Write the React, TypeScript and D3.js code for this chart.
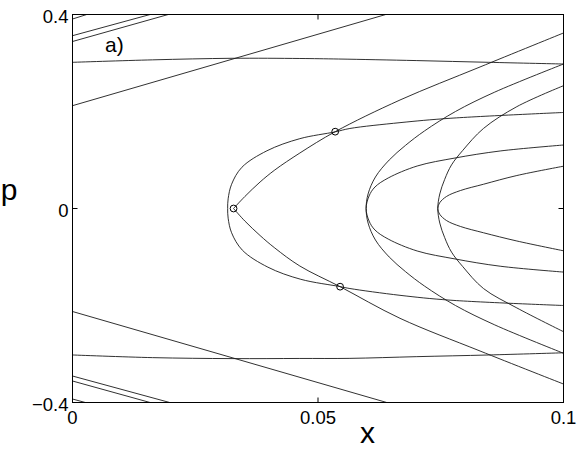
import React from "react";
import * as d3 from "d3";

const W = 581;
const H = 453;

const xTicks = [0, 0.05, 0.1];
const xTickLabels = ["0", "0.05", "0.1"];
const pTicks = [-0.4, 0, 0.4];
const pTickLabels = ["\u22120.4", "0", "0.4"];

const topArc = [[0, 0.3014], [0.0163, 0.3065], [0.0325, 0.3097], [0.0463, 0.3093], [0.0542, 0.3082], [0.07, 0.305], [0.0848, 0.3014], [0.1, 0.2979]];
const bottomArc = [[0, -0.302], [0.0163, -0.3075], [0.0325, -0.3095], [0.0463, -0.3092], [0.0565, -0.309], [0.07, -0.3055], [0.0848, -0.302], [0.1, -0.2975]];

const lineA = [[0, 0.212], [0.0638, 0.4]];
const lineB = [[0, -0.2124], [0.064, -0.4]];
const lineC = [[0, 0.3563], [0.0158, 0.4]];
const lineD = [[0, 0.3443], [0.0195, 0.4]];
const lineE = [[0, 0.3907], [0.0029, 0.4]];
const lineF = [[0, -0.3557], [0.0158, -0.4]];
const lineG = [[0, -0.3454], [0.0198, -0.4]];
const lineH = [[0, -0.3928], [0.0026, -0.4]];

const c1 = [[0.1, 0.198], [0.0769, 0.186], [0.0667, 0.177], [0.0565, 0.165], [0.0535, 0.158], [0.0463, 0.144], [0.0396, 0.119], [0.0345, 0.085], [0.0324, 0.05], [0.0317, 0.02], [0.0316, 0], [0.0317, -0.02], [0.0324, -0.05], [0.0346, -0.086], [0.0398, -0.121], [0.0465, -0.146], [0.0545, -0.161], [0.0565, -0.165], [0.0667, -0.179], [0.0769, -0.189], [0.1, -0.2]];
const v1Upper = [[0.0328, 0], [0.0351, 0.0247], [0.0382, 0.0546], [0.0412, 0.0794], [0.0463, 0.1144], [0.0535, 0.1584], [0.0667, 0.2237], [0.083, 0.2918], [0.1, 0.3619]];
const v1Lower = [[0.0328, 0], [0.0351, -0.0258], [0.0382, -0.0557], [0.0412, -0.0814], [0.0463, -0.1186], [0.0545, -0.1612], [0.0667, -0.2264], [0.083, -0.2938], [0.1, -0.3619]];
const c2 = [[0.1, 0.1309], [0.0871, 0.1186], [0.0779, 0.1041], [0.0702, 0.0876], [0.0643, 0.0629], [0.0616, 0.0443], [0.0604, 0.0258], [0.0598, 0], [0.0604, -0.0258], [0.0616, -0.0443], [0.0643, -0.063], [0.0702, -0.0876], [0.0779, -0.104], [0.0871, -0.119], [0.1, -0.1311]];
const s2 = [[0.1, 0.2979], [0.086, 0.24], [0.078, 0.2], [0.0717, 0.16], [0.0678, 0.13], [0.0645, 0.1], [0.0617, 0.065], [0.0602, 0.03], [0.0598, 0], [0.0602, -0.03], [0.0617, -0.065], [0.0645, -0.1], [0.0678, -0.13], [0.0717, -0.16], [0.078, -0.2], [0.086, -0.24], [0.1, -0.2985]];
const c3 = [[0.1, 0.0872], [0.0905, 0.068], [0.0837, 0.05], [0.079, 0.037], [0.0762, 0.025], [0.0748, 0.012], [0.0744, 0], [0.0748, -0.012], [0.0762, -0.025], [0.079, -0.037], [0.0837, -0.05], [0.0905, -0.067], [0.1, -0.0872]];
const s3 = [[0.1, 0.2532], [0.0905, 0.21], [0.0837, 0.165], [0.0795, 0.12], [0.0772, 0.09], [0.0758, 0.06], [0.0748, 0.03], [0.0744, 0], [0.0748, -0.03], [0.0758, -0.06], [0.0772, -0.09], [0.0795, -0.12], [0.0837, -0.165], [0.0905, -0.205], [0.1, -0.254]];

const markers = [[0.0328, 0], [0.0535, 0.1584], [0.0545, -0.1612]];

const curves = [topArc, bottomArc, lineA, lineB, lineC, lineD, lineE, lineF, lineG, lineH, c1, v1Upper, v1Lower, c2, s2, c3, s3];

export default function App() {
  const left = 72.5, right = 563.5, top = 14.5, bottom = 402.5;
  const x = d3.scaleLinear().domain([0, 0.1]).range([left, right]);
  const y = d3.scaleLinear().domain([-0.4, 0.4]).range([bottom, top]);
  const line = d3
    .line<number[]>()
    .x((d) => x(d[0]))
    .y((d) => y(d[1]))
    .curve(d3.curveCatmullRom.alpha(0.5));
  const font = "'Liberation Sans', Arial, Helvetica, sans-serif";
  const tl = 5;
  return (
    <svg width={W} height={H} style={{ position: "absolute", left: 0, top: 0, background: "#fff" }} fontFamily={font}>
      <defs>
        <clipPath id="plotclip">
          <rect x={left} y={top} width={right - left} height={bottom - top} />
        </clipPath>
      </defs>
      <rect x={0} y={0} width={W} height={H} fill="#fff" />
      <g clipPath="url(#plotclip)" fill="none" stroke="#1a1a1a" strokeWidth={0.9}>
        {curves.map((c, i) => (
          <path key={i} d={line(c) || ""} />
        ))}
      </g>
      {markers.map((m, i) => (
        <circle key={i} cx={x(m[0])} cy={y(m[1])} r={3.4} fill="none" stroke="#000" strokeWidth={1} />
      ))}
      <rect x={left} y={top} width={right - left} height={bottom - top} fill="none" stroke="#000" strokeWidth={1} />
      {xTicks.map((t, i) => (
        <g key={"xt" + i}>
          <line x1={x(t)} x2={x(t)} y1={bottom} y2={bottom - tl} stroke="#000" strokeWidth={1} />
          <line x1={x(t)} x2={x(t)} y1={top} y2={top + tl} stroke="#000" strokeWidth={1} />
          <text x={x(t)} y={424} textAnchor="middle" fontSize={18.5} fill="#000">
            {xTickLabels[i]}
          </text>
        </g>
      ))}
      {pTicks.map((t, i) => (
        <g key={"yt" + i}>
          <line x1={left} x2={left + tl} y1={y(t)} y2={y(t)} stroke="#000" strokeWidth={1} />
          <line x1={right} x2={right - tl} y1={y(t)} y2={y(t)} stroke="#000" strokeWidth={1} />
          <text x={68.5} y={y(t) + 8} textAnchor="end" fontSize={18.5} fill="#000">
            {pTickLabels[i]}
          </text>
        </g>
      ))}
      <text x={367.5} y={443} textAnchor="middle" fontSize={30} fill="#000">x</text>
      <text x={9} y={200} textAnchor="middle" fontSize={30} fill="#000">p</text>
      <text x={105} y={52} fontSize={21} fill="#000">a)</text>
    </svg>
  );
}
